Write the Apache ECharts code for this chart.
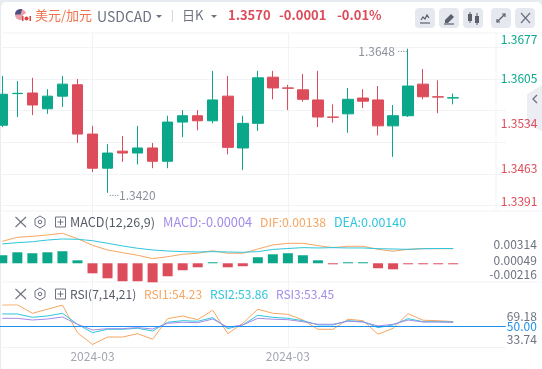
<!DOCTYPE html>
<html>
<head>
<meta charset="utf-8">
<style>
  html, body { margin: 0; padding: 0; background: #fff; }
  #chart { width: 542px; height: 369px; }
</style>
<script src="https://cdn.jsdelivr.net/npm/echarts@6/dist/echarts.min.js"></script>
</head>
<body>
<div id="chart"></div>
<script>
// 日K数据 [open, close, low, high]
const candles = [
  [1.3527, 1.3576, 1.3524, 1.3605], [1.35770, 1.35775, 1.3540, 1.3597], [1.3578, 1.3559, 1.3543, 1.3602],
  [1.3553, 1.3573, 1.3545, 1.3584], [1.3573, 1.3592, 1.3556, 1.3605], [1.3591, 1.3513, 1.3499, 1.3600],
  [1.3513, 1.3459, 1.3453, 1.3526], [1.3459, 1.3483, 1.3420, 1.3497], [1.3486, 1.3483, 1.3469, 1.3510],
  [1.3483, 1.3491, 1.3465, 1.3526], [1.3491, 1.3470, 1.3459, 1.3499], [1.3470, 1.3532, 1.3459, 1.3542],
  [1.3532, 1.3542, 1.3508, 1.3551], [1.3542, 1.3534, 1.3519, 1.3551], [1.3534, 1.3567, 1.3530, 1.3613],
  [1.3573, 1.3492, 1.3481, 1.3605], [1.3491, 1.3530, 1.3456, 1.3542], [1.3530, 1.3602, 1.3518, 1.3613],
  [1.3603, 1.3586, 1.3568, 1.3613], [1.3586, 1.35855, 1.3551, 1.3591], [1.3583, 1.3568, 1.3564, 1.3608],
  [1.3567, 1.3540, 1.3524, 1.3613], [1.3540, 1.35395, 1.3531, 1.3560], [1.3545, 1.3568, 1.3515, 1.3586],
  [1.3570, 1.3565, 1.3554, 1.3584], [1.3567, 1.3526, 1.3511, 1.3589], [1.3526, 1.3542, 1.3477, 1.3559],
  [1.3542, 1.3589, 1.3540, 1.3648], [1.3592, 1.3572, 1.3568, 1.3616], [1.3572, 1.35715, 1.3546, 1.3598],
  [1.35700, 1.35705, 1.3560, 1.3577]
]
const macdHist = [
  0.00076, 0.00104, 0.00095, 0.00104, 0.00114, 0.00028, -0.00095, -0.00142, -0.00170, -0.00170, -0.00180,
  -0.00123, -0.00066, -0.00038, 0.00002, -0.00038, -0.00028, 0.00057, 0.00085, 0.00095, 0.00076, 0.00028,
  -0.00002, 0.00002, 0.00002, -0.00047, -0.00057, -0.00002, -0.00002, -0.00002, -0.00004
]
const dif = [
  0.00208, 0.00246, 0.00255, 0.00268, 0.00284, 0.00233, 0.00170, 0.00126, 0.00100, 0.00076, 0.00044,
  0.00062, 0.00085, 0.00095, 0.00119, 0.00095, 0.00095, 0.00135, 0.00173, 0.00189, 0.00189, 0.00167,
  0.00148, 0.00161, 0.00161, 0.00132, 0.00114, 0.00132, 0.00138, 0.00138, 0.00138
]
const dea = [
  0.00183, 0.00195, 0.00204, 0.00220, 0.00230, 0.00227, 0.00214, 0.00189, 0.00164, 0.00142, 0.00126,
  0.00116, 0.00110, 0.00107, 0.00110, 0.00107, 0.00104, 0.00110, 0.00131, 0.00140, 0.00148, 0.00145,
  0.00148, 0.00145, 0.00145, 0.00138, 0.00135, 0.00132, 0.00138, 0.00140, 0.00140
]
const rsi1 = [
  69.0, 69.18, 61.6, 65.2, 69.0, 44.3, 33.74, 40.4, 40.4, 43.4, 38.4, 56.8, 59.2, 55.9, 64.3, 43.4,
  52.7, 65.2, 61.6, 60.7, 55.6, 47.3, 47.3, 56.3, 55.0, 42.9, 48.2, 61.3, 55.4, 55.0, 54.23
]
const rsi2 = [
  61.0, 61.0, 58.0, 59.2, 61.6, 51.8, 44.3, 47.3, 47.3, 48.2, 45.8, 53.6, 55.0, 54.5, 57.7, 47.9,
  51.2, 59.8, 58.0, 57.1, 55.0, 51.2, 51.2, 55.0, 54.1, 48.8, 51.2, 56.8, 54.1, 54.1, 53.86
]
const rsi3 = [
  57.1, 57.1, 55.6, 56.5, 58.3, 51.8, 46.7, 47.9, 47.9, 48.8, 47.6, 52.7, 53.6, 53.2, 56.5, 49.1,
  51.2, 57.1, 56.3, 55.9, 54.1, 51.8, 51.8, 54.5, 53.8, 50.3, 51.8, 55.6, 53.8, 53.8, 53.45
]
// 31根K线 + 右侧3格留白
const categories = [
  '', '', '', '', '', '', '2024-03', '', '', '', '', '', '', '', '', '', '',
  '', '', '2024-03', '', '', '', '', '', '', '', '', '', '', '', '', '', ''
]
const priceTicks = [1.3391, 1.3463, 1.3534, 1.3605, 1.3677]
const macdTicks = [-0.00216, 0.00049, 0.00314]
const rsiTicks = [33.74, 51.46, 69.18]
const rsiLevel = 50

const UP = '#0aa78a'
const DOWN = '#dc4c5a'
const ORANGE = '#f7a661'
const CYAN = '#2fc5dd'
const PURPLE = '#a58cea'
const GREY = '#6c7280'
const LINE = '#f2f3f7'
const FONT = '"Noto Sans CJK SC", "Noto Sans", sans-serif'

const chart = echarts.init(document.getElementById('chart'), null, { renderer: 'canvas' })

const X0 = -5.2
const XW = 511

function text(x, y, str, color, size, extra) {
  return {
    type: 'text', x, y, z: 100, silent: true,
    style: Object.assign({ text: str, fill: color, font: (size || 12) + 'px ' + FONT, verticalAlign: 'middle' }, extra || {})
  }
}
function hline(y, x1, x2) {
  return { type: 'line', z: -1, silent: true, shape: { x1: x1 || 0, y1: y, x2: x2 || 542, y2: y }, style: { stroke: LINE, lineWidth: 1 } }
}
function btn(x) {
  return { type: 'rect', z: 90, silent: true, shape: { x, y: 8, width: 20, height: 20, r: 4 }, style: { fill: '#e6e8ef' } }
}
function stroke(points, color, w) {
  return { type: 'polyline', z: 100, silent: true, shape: { points }, style: { stroke: color || '#5c606c', lineWidth: w || 1.3, fill: null } }
}
function caret(x, y) {
  return { type: 'polygon', z: 100, silent: true, shape: { points: [[x, y], [x + 6, y], [x + 3, y + 3]] }, style: { fill: GREY } }
}
function paneIcons(y) {
  return [
    stroke([[15.5, y - 5], [26, y + 5]], GREY, 1.1),
    stroke([[26, y - 5], [15.5, y + 5]], GREY, 1.1),
    { type: 'polygon', z: 100, silent: true, shape: { points: [[40, y - 6], [45, y - 3], [45, y + 3], [40, y + 6], [35, y + 3], [35, y - 3]] }, style: { stroke: GREY, fill: '#fff', lineWidth: 1 } },
    { type: 'circle', z: 101, silent: true, shape: { cx: 40, cy: y, r: 1.8 }, style: { stroke: GREY, fill: '#fff', lineWidth: 1 } },
    { type: 'rect', z: 100, silent: true, shape: { x: 55.5, y: y - 5, width: 10, height: 10 }, style: { stroke: GREY, fill: '#fff', lineWidth: 1 } },
    stroke([[57.5, y], [63.5, y]], GREY, 1),
    stroke([[60.5, y - 3], [60.5, y + 3]], GREY, 1)
  ]
}

const graphics = [
  { type: 'rect', z: -3, silent: true, shape: { x: 0, y: 0, width: 542, height: 369 }, style: { fill: '#e8ebf2' } },
  { type: 'rect', z: -2, silent: true, shape: { x: 1, y: 2, width: 541, height: 367, r: [5, 5, 0, 0] }, style: { fill: '#fff' } },
  hline(33), hline(211), hline(282),
  { type: 'line', z: -1, silent: true, shape: { x1: 496, y1: 33, x2: 496, y2: 211 }, style: { stroke: LINE, lineWidth: 1 } },

  // 国旗
  { type: 'circle', z: 100, silent: true, shape: { cx: 20.5, cy: 14.5, r: 5.5 }, style: { fill: '#e9a0a8' } },
  { type: 'sector', z: 101, silent: true, shape: { cx: 20.5, cy: 14.5, r: 5.5, startAngle: Math.PI, endAngle: Math.PI * 1.6 }, style: { fill: '#4b4f86' } },
  { type: 'circle', z: 102, silent: true, shape: { cx: 26.5, cy: 18, r: 4.5 }, style: { fill: '#fff' } },
  { type: 'circle', z: 103, silent: true, shape: { cx: 26.5, cy: 18.5, r: 2 }, style: { fill: '#e0423f' } },
  { type: 'rect', z: 103, silent: true, shape: { x: 22, y: 16, width: 1.5, height: 5 }, style: { fill: '#e0423f' } },
  { type: 'rect', z: 103, silent: true, shape: { x: 29.5, y: 16, width: 1.5, height: 5 }, style: { fill: '#e0423f' } },

  text(35, 15.5, '美元/加元', '#f1734d', 13),
  text(97, 16.5, 'USDCAD', GREY, 14),
  caret(156, 15),
  { type: 'line', z: 100, silent: true, shape: { x1: 172.5, y1: 10, x2: 172.5, y2: 22 }, style: { stroke: '#d5d8e0', lineWidth: 1 } },
  text(182, 15.5, '日K', GREY, 13),
  caret(211, 15),
  text(228, 15.5, '1.3570', DOWN, 13, { font: 'bold 13px ' + FONT }),
  text(279, 15.5, '-0.0001', DOWN, 13, { font: 'bold 13px ' + FONT }),
  text(337, 15.5, '-0.01%', DOWN, 13, { font: 'bold 13px ' + FONT }),

  // 工具按钮
  btn(415), btn(439), btn(463), btn(491), btn(515),
  stroke([[421, 20], [423, 17], [425, 19], [427, 15], [429, 18]], '#5c606c', 1.2),
  stroke([[420, 23], [430, 23]], '#5c606c', 1.2),
  { type: 'polygon', z: 100, silent: true, shape: { points: [[445, 20], [451, 14], [454, 17], [448, 23], [445, 23]] }, style: { fill: '#5c606c' } },
  stroke([[444, 24], [454, 24]], '#5c606c', 1.2),
  { type: 'rect', z: 100, silent: true, shape: { x: 468, y: 14, width: 4, height: 7 }, style: { fill: '#5c606c' } },
  { type: 'rect', z: 100, silent: true, shape: { x: 475, y: 16, width: 4, height: 7 }, style: { fill: '#5c606c' } },
  stroke([[470, 12], [470, 23]], '#5c606c', 1),
  stroke([[477, 13], [477, 25]], '#5c606c', 1),
  stroke([[497, 22], [505, 14]], '#5c606c', 1.2),
  stroke([[502, 14], [505, 14], [505, 17]], '#5c606c', 1.2),
  stroke([[497, 19], [497, 22], [500, 22]], '#5c606c', 1.2),
  stroke([[521, 13], [530, 23]], '#6c7280', 1.2),
  stroke([[530, 13], [521, 23]], '#6c7280', 1.2),

  // 右侧折叠条
  { type: 'polygon', z: -1, silent: true, shape: { points: [[542, 85], [527, 94], [527, 125], [542, 131]] }, style: { fill: '#eceef3' } },
  stroke([[537, 95], [533, 99], [537, 103]], '#6c7280', 1.3),

  // MACD 图例
  ...paneIcons(222),
  text(70, 222, 'MACD(12,26,9)', '#555b66', 12.6),
  text(163, 222, 'MACD:-0.00004', PURPLE, 12.8),
  text(260, 222, 'DIF:0.00138', ORANGE, 12.2),
  text(334, 222, 'DEA:0.00140', CYAN, 12.5),

  // RSI 图例
  ...paneIcons(294),
  text(70, 294, 'RSI(7,14,21)', '#555b66', 12),
  text(144, 294, 'RSI1:54.23', ORANGE, 12),
  text(210, 294, 'RSI2:53.86', CYAN, 12),
  text(276, 294, 'RSI3:53.45', PURPLE, 12)
]

function priceLabel(v) {
  const s = v.toFixed(4)
  if (s === '1.3677') return '{top|' + s + '}'
  if (s === '1.3391') return '{bottom|' + s + '}'
  return '{' + (v > 1.357 ? 'hi' : 'lo') + '|' + s + '}'
}
function lineSeries(name, data, color, xi, yi) {
  return {
    name, type: 'line', data, xAxisIndex: xi, yAxisIndex: yi, symbol: 'none', silent: true,
    lineStyle: { color, width: 1 }, z: 3
  }
}
const extremeRich = {
  t: { color: '#8c909c', fontSize: 12 },
  d: { color: '#8c909c', fontSize: 9, padding: [0, 0, 6, 0] }
}

const option = {
  animation: false,
  textStyle: { fontFamily: FONT },
  graphic: graphics,
  grid: [
    { left: X0, width: XW, top: 30.4, height: 180.8, outerBoundsMode: 'none' },
    { left: X0, width: XW, top: 230.1, height: 56, outerBoundsMode: 'none' },
    { left: X0, width: XW, top: 304.8, height: 39.7, outerBoundsMode: 'none' },
    { left: X0, width: XW, top: 33, height: 314, outerBoundsMode: 'none' }
  ],
  xAxis: [
    { type: 'category', gridIndex: 0, data: categories, show: false },
    { type: 'category', gridIndex: 1, data: categories, show: false },
    { type: 'category', gridIndex: 2, data: categories, show: false },
    {
      type: 'category', gridIndex: 3, data: categories,
      axisLine: { show: true, lineStyle: { color: LINE } },
      axisTick: { show: false },
      axisLabel: { interval: 0, color: '#a3a7b2', fontSize: 12, margin: 3, hideOverlap: false },
      splitLine: {
        show: true, alignWithLabel: true,
        interval: (i) => categories[i] !== '',
        lineStyle: { color: LINE, width: 1 }
      }
    }
  ],
  yAxis: [
    {
      type: 'value', gridIndex: 0, position: 'right', min: priceTicks[0], max: priceTicks[4], scale: true,
      axisLine: { show: false }, axisTick: { show: false },
      splitLine: { show: true, showMaxLine: false, showMinLine: false, lineStyle: { color: LINE, width: 1 } },
      axisLabel: {
        customValues: priceTicks, showMinLabel: true, showMaxLabel: true, margin: -5, align: 'left',
        formatter: priceLabel,
        rich: {
          top: { color: UP, fontSize: 12, padding: [19, 0, 0, 0] },
          hi: { color: UP, fontSize: 12, padding: [6, 0, 0, 0] },
          lo: { color: DOWN, fontSize: 12, padding: [6, 0, 0, 0] },
          bottom: { color: DOWN, fontSize: 12, padding: [0, 0, 19, 0] }
        }
      }
    },
    {
      type: 'value', gridIndex: 1, position: 'right', min: macdTicks[0], max: macdTicks[2],
      axisLine: { show: false }, axisTick: { show: false }, splitLine: { show: false },
      axisLabel: {
        customValues: macdTicks, showMinLabel: true, showMaxLabel: true, margin: 31, align: 'right',
        formatter: (v) => {
          const s = v.toFixed(5)
          if (v > 0.003) return '{top|' + s + '}'
          if (v < 0) return '{bottom|' + s + '}'
          return '{mid|' + s + '}'
        },
        rich: {
          top: { color: GREY, fontSize: 12, padding: [28, 0, 0, 0] },
          mid: { color: GREY, fontSize: 12, padding: [4, 0, 0, 0] },
          bottom: { color: GREY, fontSize: 12, padding: [0, 0, 24, 0] }
        }
      }
    },
    {
      type: 'value', gridIndex: 2, position: 'right', min: rsiTicks[0], max: rsiTicks[2],
      axisLine: { show: false }, axisTick: { show: false }, splitLine: { show: false },
      axisLabel: {
        customValues: rsiTicks, showMinLabel: true, showMaxLabel: true, margin: 31, align: 'right',
        formatter: (v) => {
          const s = v.toFixed(2)
          if (v > 60) return '{top|' + s + '}'
          if (v < 40) return '{bottom|' + s + '}'
          return '{mid|' + s + '}'
        },
        rich: {
          top: { color: GREY, fontSize: 12, padding: [24, 0, 0, 0] },
          mid: { color: GREY, fontSize: 12, padding: [6, 0, 0, 0] },
          bottom: { color: GREY, fontSize: 12, padding: [0, 0, 11, 0] }
        }
      }
    },
    { type: 'value', gridIndex: 3, min: 0, max: 1, show: false }
  ],
  series: [
    {
      name: 'USDCAD', type: 'candlestick', data: candles, xAxisIndex: 0, yAxisIndex: 0, barWidth: 11, silent: true,
      itemStyle: { color: UP, color0: DOWN, borderColor: UP, borderColor0: DOWN, borderWidth: 1 },
      markPoint: {
        symbol: 'circle', symbolSize: 1, silent: true,
        itemStyle: { color: 'rgba(0,0,0,0)' },
        data: [
          { coord: [27, 1.3648], label: { show: true, position: 'left', distance: 0, offset: [0, 3], formatter: '{t|1.3648} {d|....}', rich: extremeRich } },
          { coord: [7, 1.3420], label: { show: true, position: 'right', distance: 1, offset: [0, 3], formatter: '{d|....}{t|1.3420}', rich: extremeRich } }
        ]
      }
    },
    {
      name: 'MACD', type: 'bar', data: macdHist, xAxisIndex: 1, yAxisIndex: 1, barWidth: 10, barMinHeight: 1, silent: true,
      itemStyle: { color: (p) => (p.value >= 0 ? UP : DOWN) }
    },
    lineSeries('DIF', dif, ORANGE, 1, 1),
    lineSeries('DEA', dea, CYAN, 1, 1),
    Object.assign(lineSeries('RSI1', rsi1, ORANGE, 2, 2), {
      markLine: {
        silent: true, symbol: 'none', animation: false,
        lineStyle: { color: '#1e90f0', width: 1, type: 'solid' },
        label: { show: true, position: 'end', distance: 31, align: 'right', color: '#1e90f0', fontSize: 12, padding: [3, 0, 0, 0], formatter: () => rsiLevel.toFixed(2) },
        data: [{ yAxis: rsiLevel }]
      }
    }),
    lineSeries('RSI2', rsi2, CYAN, 2, 2),
    lineSeries('RSI3', rsi3, PURPLE, 2, 2)
  ]
}

chart.setOption(option)
window.addEventListener('resize', () => chart.resize())
</script>
</body>
</html>
